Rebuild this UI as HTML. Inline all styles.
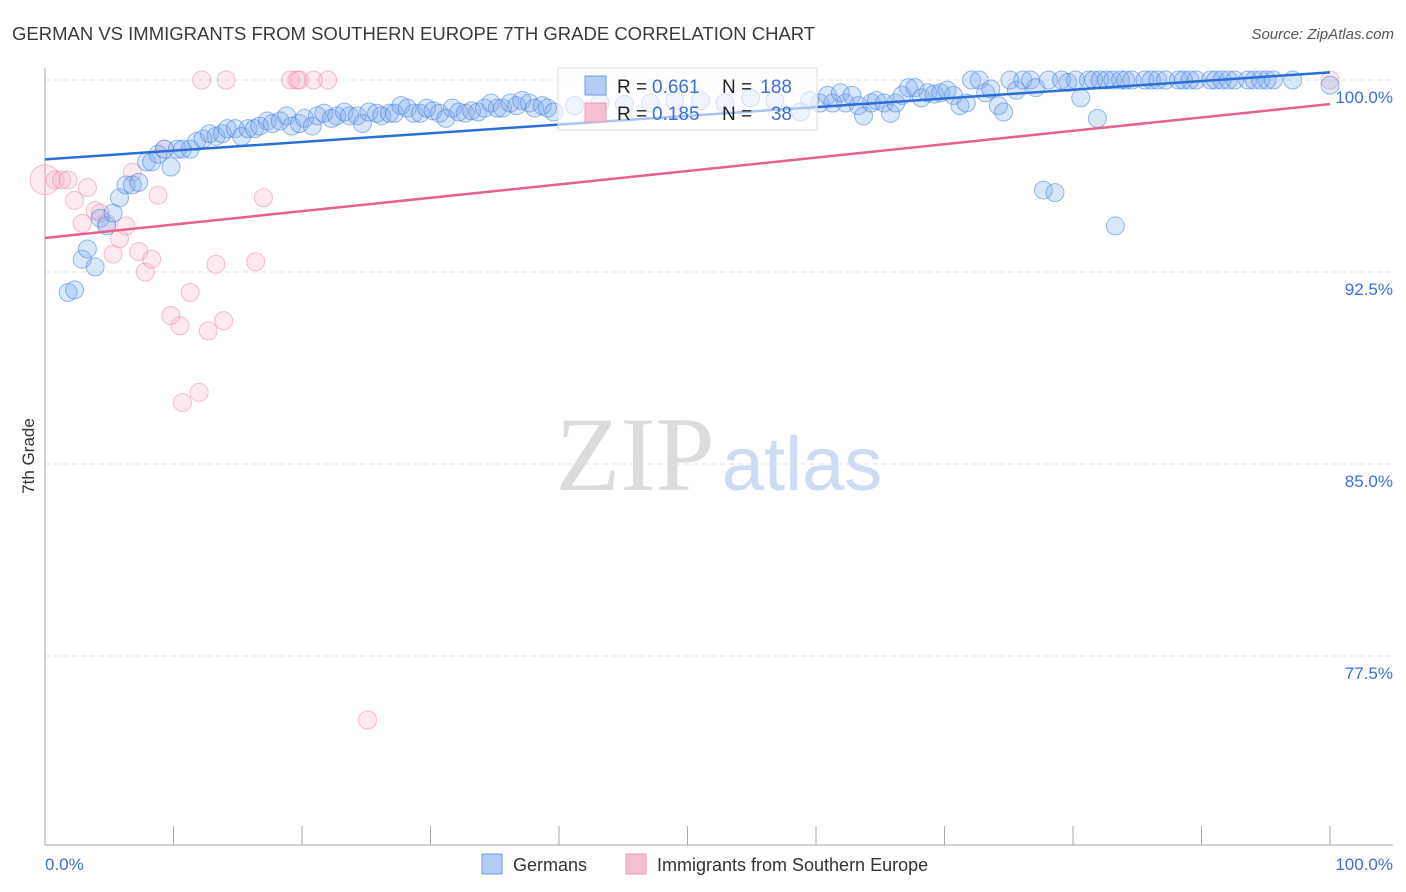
<!DOCTYPE html>
<html><head><meta charset="utf-8"><style>
body{margin:0;background:#fff;font-family:"Liberation Sans",sans-serif;}
svg{display:block}
</style></head><body>
<svg id="chart" width="1406" height="892" viewBox="0 0 1406 892" xmlns="http://www.w3.org/2000/svg">
<text x="12" y="40" font-size="18.5" fill="#3a3a3a">GERMAN VS IMMIGRANTS FROM SOUTHERN EUROPE 7TH GRADE CORRELATION CHART</text>
<text x="1394" y="39" font-size="15" fill="#555" text-anchor="end" font-style="italic">Source: ZipAtlas.com</text>
<g>
<text x="635" y="490" font-size="106" fill="#dcdcdc" text-anchor="middle" font-family="Liberation Serif,serif">ZIP</text>
<text x="802" y="490" font-size="76" fill="#cddcf3" text-anchor="middle">atlas</text>
</g>
<g id="grid"></g>
<g id="axes"></g>
<g id="marks"></g>
<g>
<rect x="558" y="68" width="259" height="62" fill="#fff" fill-opacity="0.6" stroke="#ddd"/>
<rect x="585" y="76" width="21" height="19" fill="#b3cdf5" stroke="#6d9be6"/>
<rect x="585" y="103" width="21" height="19" fill="#f7bfd2" stroke="#ec9ab8"/>
<text x="617" y="93" font-size="19" fill="#222">R =</text>
<text x="652" y="93" font-size="19" fill="#3a6fd8">0.661</text>
<text x="722" y="93" font-size="19" fill="#222">N =</text>
<text x="792" y="93" font-size="19" fill="#3a6fd8" text-anchor="end">188</text>
<text x="617" y="120" font-size="19" fill="#222">R =</text>
<text x="652" y="120" font-size="19" fill="#3a6fd8">0.185</text>
<text x="722" y="120" font-size="19" fill="#222">N =</text>
<text x="792" y="120" font-size="19" fill="#3a6fd8" text-anchor="end">38</text>
</g>
<text transform="translate(34,456) rotate(-90)" font-size="17" fill="#333" text-anchor="middle">7th Grade</text>
<text x="45" y="870" font-size="17" fill="#3a6fd8">0.0%</text>
<text x="1393" y="870" font-size="17" fill="#3a6fd8" text-anchor="end">100.0%</text>
<g>
<rect x="482" y="854" width="20" height="20" fill="#b3cdf5" stroke="#6d9be6"/>
<text x="513" y="871" font-size="18" fill="#333">Germans</text>
<rect x="626" y="854" width="20" height="20" fill="#f7bfd2" stroke="#ec9ab8"/>
<text x="657" y="871" font-size="18" fill="#333">Immigrants from Southern Europe</text>
</g>
</svg>
<script>
const yTicks=[100,92.5,85,77.5];
const yTickLabels=["100.0%","92.5%","85.0%","77.5%"];
const xTicks=[0,10,20,30,40,50,60,70,80,90,100];
const germanX=[1.8,2.3,2.9,3.3,3.9,4.3,4.8,5.3,5.8,6.3,6.8,7.3,7.9,8.3,8.8,9.3,9.8,10.3,10.7,11.3,11.8,12.3,12.8,13.3,13.8,14.2,14.8,15.3,15.8,16.3,16.7,17.3,17.7,18.3,18.8,19.2,19.8,20.2,20.8,21.2,21.7,22.3,22.7,23.3,23.7,24.3,24.7,25.2,25.8,26.2,26.8,27.2,27.7,28.2,28.7,29.2,29.7,30.2,30.7,31.2,31.7,32.2,32.7,33.2,33.7,34.2,34.7,35.2,35.6,36.2,36.7,37.1,37.7,38.1,38.7,39.1,39.6,41.2,43.2,45.1,47.1,49.0,51.0,52.9,54.9,56.8,58.8,59.5,60.3,60.9,61.3,61.9,62.3,62.8,63.3,63.7,64.3,64.7,65.3,65.8,66.2,66.7,67.2,67.7,68.2,68.7,69.2,69.7,70.2,70.7,71.2,71.7,72.1,72.7,73.2,73.6,74.2,74.6,75.1,75.6,76.1,76.7,77.1,77.7,78.1,78.6,79.1,79.6,80.2,80.6,81.2,81.6,81.9,82.1,82.6,83.1,83.3,83.7,84.1,84.6,85.6,86.1,86.6,87.2,88.2,88.6,89.1,89.6,90.7,91.1,91.6,92.1,92.6,93.6,94.1,94.6,95.1,95.6,97.1,100];
const germanY=[91.7,91.8,93.0,93.4,92.7,94.6,94.3,94.8,95.4,95.9,95.9,96.0,96.8,96.8,97.1,97.3,96.6,97.3,97.3,97.3,97.6,97.7,97.9,97.8,97.9,98.1,98.1,97.8,98.1,98.1,98.2,98.4,98.3,98.4,98.6,98.2,98.3,98.5,98.2,98.6,98.7,98.5,98.6,98.75,98.6,98.6,98.3,98.75,98.7,98.6,98.7,98.7,99.0,98.9,98.7,98.7,98.9,98.8,98.7,98.5,98.9,98.75,98.7,98.8,98.75,98.9,99.1,98.9,98.9,99.1,99.0,99.2,99.1,98.9,99.0,98.9,98.75,99.0,99.1,99.05,99.1,99.2,99.2,99.1,99.3,99.2,98.75,99.2,99.1,99.4,99.1,99.5,99.1,99.4,99.0,98.6,99.1,99.2,99.1,98.7,99.1,99.4,99.7,99.7,99.3,99.5,99.45,99.5,99.6,99.4,99.0,99.1,100,100,99.5,99.65,99.0,98.75,100,99.6,100,100,99.7,95.7,100,95.6,100,99.9,100,99.3,100,100,98.5,100,100,100,94.3,100,100,100,100,100,100,100,100,100,100,100,100,100,100,100,100,100,100,100,100,100,100,99.8];
const immX=[0,0.8,1.3,1.8,2.3,2.9,3.3,3.9,4.3,4.8,5.3,5.8,6.3,6.8,7.3,7.8,8.3,8.8,9.3,9.8,10.5,10.7,11.3,12.0,12.2,12.7,13.3,13.9,14.1,16.4,17.0,19.1,19.6,19.8,20.9,22.0,25.1,100];
const immY=[96.1,96.1,96.1,96.1,95.3,94.4,95.8,94.9,94.8,94.4,93.2,93.8,94.3,96.4,93.3,92.5,93.0,95.5,97.3,90.8,90.4,87.4,91.7,87.8,100,90.2,92.8,90.6,100,92.9,95.4,100,100,100,100,100,75.0,100];
const germanTrend=[96.9,100.3];
const immTrend=[93.83,99.06];
const NS="http://www.w3.org/2000/svg";
const X0=45,X1=1330,YTOP=80,PPU=25.6;
const sx=v=>X0+(X1-X0)*v/100;
const sy=v=>YTOP+(100-v)*PPU;
function mk(tag,attrs,parent){const e=document.createElementNS(NS,tag);for(const k in attrs)e.setAttribute(k,attrs[k]);parent.appendChild(e);return e;}
const grid=document.getElementById('grid'),axes=document.getElementById('axes'),marks=document.getElementById('marks');
yTicks.forEach((t,i)=>{
 const l=mk('line',{x1:45,x2:1393,y1:sy(t),y2:sy(t),stroke:'#e0e0e0','stroke-dasharray':'5,4'},grid);
 
 
 const tx=mk('text',{x:1393,y:sy(t)+23,'font-size':17,fill:'#3a6fd8','text-anchor':'end'},axes);
 tx.textContent=yTickLabels[i];
 
 
});
mk('line',{x1:45,x2:45,y1:68,y2:845,stroke:'#aaa'},axes);
mk('line',{x1:45,x2:1393,y1:845,y2:845,stroke:'#aaa'},axes);
xTicks.forEach(t=>{const l=mk('line',{x1:sx(t),x2:sx(t),y1:826,y2:845,stroke:'#aaa'},axes);
 
 });
function dots(xs,ys,fill,stroke,name){xs.forEach((x,i)=>{
 const r=(name==='immigrant-point'&&i===0)?15:9;
 const c=mk('circle',{cx:sx(x),cy:sy(ys[i]),r:r,fill:fill,stroke:stroke,'stroke-width':1},marks);
 
 });}
dots(immX,immY,'rgba(244,170,196,0.25)','rgba(232,130,165,0.5)','immigrant-point');
dots(germanX,germanY,'rgba(120,168,236,0.28)','rgba(70,130,220,0.55)','german-point');
const gl=mk('line',{x1:sx(0),y1:sy(germanTrend[0]),x2:sx(100),y2:sy(germanTrend[1]),stroke:'#2a6fd6','stroke-width':2.5},marks);


const pl=mk('line',{x1:sx(0),y1:sy(immTrend[0]),x2:sx(100),y2:sy(immTrend[1]),stroke:'#e8608c','stroke-width':2.5},marks);


</script>
</body></html>
